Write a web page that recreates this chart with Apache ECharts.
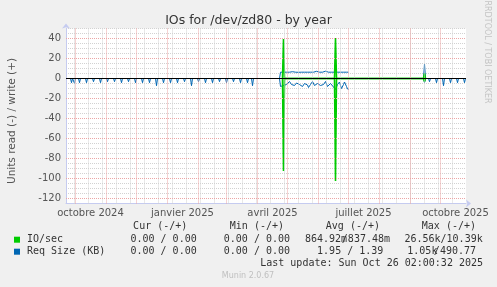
<!DOCTYPE html>
<html><head><meta charset="utf-8">
<script src="https://cdn.jsdelivr.net/npm/echarts@6/dist/echarts.min.js"></script>
<style>html,body{margin:0;padding:0;background:#f0f0f0;}#c{width:497px;height:287px;}</style>
</head><body><div id="c"></div>
<script>
// ---------------- data ----------------
const axisStart = '2024-09-21T12:00:00Z';
const axisEnd = '2025-10-26T12:00:00Z';
const xLabelTexts = ['octobre 2024', 'janvier 2025', 'avril 2025', 'juillet 2025', 'octobre 2025'];
const xLabelDates = ['2024-10-16', '2025-01-16', '2025-04-16', '2025-07-16', '2025-10-16'];
const monthStarts = ['2024-10-01','2024-11-01','2024-12-01','2025-01-01','2025-02-01','2025-03-01','2025-04-01','2025-05-01','2025-06-01','2025-07-01','2025-08-01','2025-09-01','2025-10-01'];
const minorDates = ['2024-09-30','2024-10-14','2024-10-28','2024-11-11','2024-11-25','2024-12-09','2024-12-23','2025-01-06','2025-01-20','2025-02-03','2025-02-17','2025-03-03','2025-03-17','2025-03-31','2025-04-14','2025-04-28','2025-05-12','2025-05-26','2025-06-09','2025-06-23','2025-07-07','2025-07-21','2025-08-04','2025-08-18','2025-09-01','2025-09-15','2025-09-29','2025-10-13'];
const yMajorTicks = [-120, -100, -80, -60, -40, -20, 0, 20, 40];
const yMin = -125, yMax = 50, yMinorStep = 5;

// Req Size (KB) read (-): weekly spikes, first period
const reqReadSpikeDates1 = ['2024-09-27','2024-09-30','2024-10-05','2024-10-12','2024-10-19','2024-10-26','2024-11-02','2024-11-09','2024-11-16','2024-11-23','2024-11-30','2024-12-07','2024-12-14','2024-12-21','2024-12-28','2025-01-04','2025-01-11','2025-01-18','2025-01-25','2025-02-01','2025-02-08','2025-02-15','2025-02-22','2025-03-01','2025-03-08','2025-03-15','2025-03-22','2025-03-27'];
const reqReadSpikeVals1 = [-4.2,-4.8,-4.2,-4.2,-3.2,-4.2,-3.2,-3.2,-4.2,-3.2,-4.2,-4.2,-4.2,-7.2,-4.2,-4.2,-4.2,-3.2,-7.2,-3.2,-4.2,-4.2,-3.2,-4.2,-3.2,-4.2,-4.2,-7.2];
// Req Size (KB) continuous period, daily from midStart
const midStart = '2025-04-24';
const midReqRead = [-8,-7,-7.5,-7,-6,-6.5,-6,-5,-4,-3,-5,-6,-5.5,-6.5,-7,-6,-4.5,-3,-3.5,-6,-7,-6.5,-8,-7,-5,-3,-4,-6.5,-9,-7,-6,-5,-3,-4.5,-7,-8,-6.5,-5,-3,-4,-7,-8,-7,-6,-4,-3,-5,-8,-9,-7.5,-5,-3.5,-6,-8.5,-10,-11,-9,-6,-4,-3.5,-7,-10,-9,-6,-3.5,-4,-8,-10.5,-11];
const midReqWrite = [6.3,6.3,6.2,6.3,6.3,6.3,6.3,6.2,6.3,6.3,6.3,6.3,6.8,7.2,6.5,6.3,6.3,6.3,6.2,6.3,6.3,6.3,6.3,6.3,6.3,6.2,6.3,6.3,6.3,6.3,6.3,6.3,6.3,6.3,6.3,7.0,7.2,6.4,6.3,6.3,6.3,6.3,6.3,6.3,7.0,7.3,6.6,6.3,6.3,6.3,6.3,6.3,6.3,6.2,6.3,6.3,6.3,6.3,6.3,6.3,6.3,6.3,6.3,6.3,6.3,6.3,6.3,6.3,6.3];
// last period
const reqWriteSpikeDates3 = ['2025-09-15'];
const reqWriteSpikeVals3 = [14.5];
const reqReadSpikeDates3 = ['2025-09-15','2025-09-20','2025-09-27','2025-10-04','2025-10-11','2025-10-18','2025-10-25'];
const reqReadSpikeVals3 = [-4,-3.2,-4.2,-7.2,-4.2,-4.2,-4.2];
// IO/sec
const ioSpikeDates = ['2025-04-27', '2025-06-18', '2025-09-15'];
const ioWriteVals = [39.5, 40.5, 5];
const ioReadVals = [-92.5, -102.5, -3];

// legend / stats texts
const statHeaders = ['Cur (-/+)', 'Min (-/+)', 'Avg (-/+)', 'Max (-/+)'];
const ioStats = ['0.00 / 0.00', '0.00 / 0.00', ['864.92m', '/837.48m'], '26.56k/10.39k'];
const reqStats = ['0.00 / 0.00', '0.00 / 0.00', '1.95 / 1.39', ['1.05k', '/490.77']];
const lastUpdate = 'Last update: Sun Oct 26 02:00:32 2025';

// ---------------- build ----------------
const DAY = 86400000;
const T = s => Date.parse(s.length === 10 ? s + 'T00:00:00Z' : s);
const T0 = T(axisStart), T1 = T(axisEnd);

function spikes(dates, vals) {
  const pts = [];
  dates.forEach((d, i) => {
    const t = T(d);
    pts.push([t - DAY, 0], [t, vals[i]], [t + DAY, 0]);
  });
  return pts;
}
function daily(start, vals) {
  const t0 = T(start);
  return [[t0 - DAY, 0]].concat(vals.map((v, i) => [t0 + i * DAY, v]));
}
const gap = t => [t, null];

const reqRead = [[T('2024-09-22'), 0]]
  .concat(spikes(reqReadSpikeDates1, reqReadSpikeVals1))
  .concat([gap(T('2025-04-01'))])
  .concat(daily(midStart, midReqRead))
  .concat([gap(T('2025-08-01'))])
  .concat(spikes(reqReadSpikeDates3, reqReadSpikeVals3));
const reqWrite = [[T('2024-09-22'), 0], [T('2025-03-28'), 0]]
  .concat([gap(T('2025-04-01'))])
  .concat(daily(midStart, midReqWrite))
  .concat([gap(T('2025-08-01'))])
  .concat(spikes(reqWriteSpikeDates3, reqWriteSpikeVals3))
  .concat([[T('2025-10-26'), 0]]);
const ioWrite = spikes(ioSpikeDates, ioWriteVals);
const ioRead = spikes(ioSpikeDates, ioReadVals);

const mono = '"DejaVu Sans Mono", monospace';
const sans = '"DejaVu Sans", sans-serif';
const GREEN = '#00cc00', BLUE = '#0066b3';
const axisCol = '#c5cbf0';

const graphics = [];
function txt(text, x, y, align, font, fill, rot) {
  graphics.push({ type: 'text', x: x, y: y, rotation: rot || 0, silent: true,
    style: { text: text, font: font, fill: fill, align: align, verticalAlign: 'middle' } });
}
txt('Units read (-) / write (+)', 12, 121, 'center', '10.5px ' + sans, '#555', Math.PI / 2);
txt('RRDTOOL / TOBI OETIKER', 487, 52, 'center', '8px ' + sans, '#c4c4c4', -Math.PI / 2);
const headerRight = [187.3, 284, 380, 476];
statHeaders.forEach((h, i) => txt(h, headerRight[i], 226.7, 'right', '10px ' + mono, '#333'));
function statRow(arr, y, rights, splitPos) {
  arr.forEach((s, i) => {
    if (Array.isArray(s)) {
      txt(s[0], splitPos[i][0], y, 'left', '10px ' + mono, '#333');
      txt(s[1], splitPos[i][1], y, 'right', '10px ' + mono, '#333');
    } else {
      txt(s, rights[i], y, 'right', '10px ' + mono, '#333');
    }
  });
}
statRow(ioStats, 239.7, [196.7, 290, 390, 482.7], {2: [305, 390]});
statRow(reqStats, 251.7, [196.7, 290, 383.3, 476], {3: [407.3, 476]});
txt(lastUpdate, 483, 263.3, 'right', '10px ' + mono, '#333');
txt('Munin 2.0.67', 248, 276, 'center', '8px ' + sans, '#c0c0c0');

const lineSeries = (name, data, color, z, w) => ({
  name: name, type: 'line', data: data, color: color, z: z,
  showSymbol: false, symbol: 'none', connectNulls: false, animation: false, silent: true,
  lineStyle: { color: color, width: w }, itemStyle: { color: color }
});

const option = {
  backgroundColor: '#f0f0f0',
  animation: false,
  title: {
    text: 'IOs for /dev/zd80 - by year', left: 'center', top: 9,
    textStyle: { fontFamily: sans, fontSize: 12.5, fontWeight: 'normal', color: '#333' }
  },
  legend: {
    data: ['IO/sec', 'Req Size (KB)'], orient: 'vertical', left: 14, top: 233.7, padding: 0,
    icon: 'rect', itemWidth: 6, itemHeight: 6, itemGap: 0, selectedMode: false,
    textStyle: { fontFamily: mono, fontSize: 10, color: '#333', lineHeight: 12, padding: [0, 0, 0, 2] }
  },
  grid: { left: 66, top: 28.5, width: 400, height: 175, show: true, backgroundColor: '#ffffff', borderWidth: 0, containLabel: false },
  xAxis: {
    type: 'value', min: T0, max: T1,
    axisLine: { show: true, onZero: false, lineStyle: { color: axisCol, width: 1 }, symbol: ['none', 'arrow'], symbolSize: [6, 5], symbolOffset: [0, 5] },
    axisTick: { show: false },
    splitLine: { show: false },
    axisLabel: {
      customValues: xLabelDates.map(T),
      formatter: v => { const i = xLabelDates.map(T).indexOf(v); return i >= 0 ? xLabelTexts[i] : ''; },
      color: '#555', fontFamily: sans, fontSize: 10, margin: 5
    }
  },
  yAxis: {
    type: 'value', min: yMin, max: yMax, interval: yMinorStep,
    axisLine: { show: true, onZero: false, lineStyle: { color: axisCol, width: 1 }, symbol: ['none', 'arrow'], symbolSize: [6, 5], symbolOffset: [0, 5] },
    axisTick: { show: false },
    axisLabel: { formatter: v => yMajorTicks.includes(v) ? String(v) : '', color: '#555', fontFamily: sans, fontSize: 10, margin: 5 },
    splitLine: { show: true, lineStyle: { color: '#d2d2d2', width: 1, type: [1, 1] } }
  },
  graphic: graphics,
  series: [
    { name: 'gridMinor', type: 'line', data: [], z: 1, silent: true, animation: false,
      markLine: { silent: true, symbol: 'none', label: { show: false }, animation: false,
        lineStyle: { color: '#d2d2d2', width: 1, type: [1, 1] },
        data: minorDates.map(d => ({ xAxis: T(d) })) } },
    { name: 'gridMajor', type: 'line', data: [], z: 1, silent: true, animation: false,
      markLine: { silent: true, symbol: 'none', label: { show: false }, animation: false,
        lineStyle: { color: '#eba6a6', width: 1, type: [1, 1] },
        data: monthStarts.map(d => ({ xAxis: T(d) })).concat(yMajorTicks.map(v => ({ yAxis: v }))) } },
    lineSeries('Req Size (KB)', reqRead, BLUE, 3, 1),
    lineSeries('Req Size (KB)', reqWrite, BLUE, 3, 1),
    lineSeries('IO/sec', ioRead, GREEN, 4, 1.6),
    lineSeries('IO/sec', ioWrite, GREEN, 4, 1.6),
    { name: 'zero', type: 'line', data: [], z: 10, silent: true, animation: false,
      markLine: { silent: true, symbol: 'none', label: { show: false }, animation: false,
        lineStyle: { color: '#000000', width: 1, type: 'solid' },
        data: [{ yAxis: 0 }] } }
  ]
};
const chart = echarts.init(document.getElementById('c'), null, { renderer: 'canvas' });
chart.setOption(option);
</script>
</body></html>
